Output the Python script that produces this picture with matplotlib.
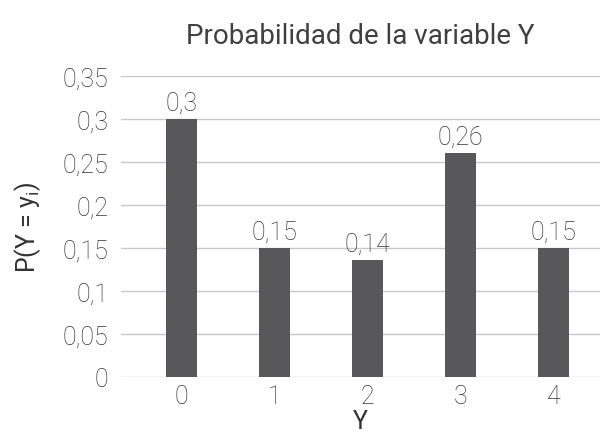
import matplotlib
matplotlib.use("Agg")
import matplotlib.pyplot as plt

categorias = ["0", "1", "2", "3", "4"]
probabilidades = [0.30, 0.15, 0.136, 0.26, 0.15]
etiquetas = ["0,3", "0,15", "0,14", "0,26", "0,15"]
yticks = [0, 0.05, 0.1, 0.15, 0.2, 0.25, 0.3, 0.35]
ytick_labels = ["0", "0,05", "0,1", "0,15", "0,2", "0,25", "0,3", "0,35"]

plt.rcParams["font.family"] = ["Roboto", "DejaVu Sans"]
plt.rcParams["font.weight"] = "light"
txt = "#333333"

fig = plt.figure(figsize=(6.13, 4.35), dpi=100)
ax = fig.add_axes([121/613, 1 - 378/435, 479/613, (378-77)/435])

x = range(len(categorias))
bars = ax.bar(x, probabilidades, width=0.335, color="#58585a", zorder=3)
for b, lab in zip(bars, etiquetas):
    ax.text(b.get_x() + b.get_width()/2, b.get_height() + 0.005, lab,
            ha="center", va="bottom", fontsize=18, color=txt)

ax.set_xlim(-0.65, 4.5)
ax.set_ylim(0, 0.35)
ax.set_yticks(yticks)
ax.set_yticklabels(ytick_labels)
ax.set_xticks(list(x))
ax.set_xticklabels(categorias)
ax.grid(axis="y", color="#c8c8c8", linewidth=1, zorder=0)
for s in ax.spines.values():
    s.set_visible(False)
ax.tick_params(length=0, labelsize=18, labelcolor=txt)
ax.tick_params(axis="y", pad=9)
ax.tick_params(axis="x", pad=5)
ax.set_xlabel("Y", fontsize=18, color=txt, labelpad=1)
ax.set_ylabel("P(Y = y$_\\mathregular{i}$)", fontsize=18, color=txt, labelpad=14)
ax.set_title("Probabilidad de la variable Y", fontsize=20, color="#404040",
             pad=24, fontweight="normal")

fig.savefig("out.png", dpi=100)
